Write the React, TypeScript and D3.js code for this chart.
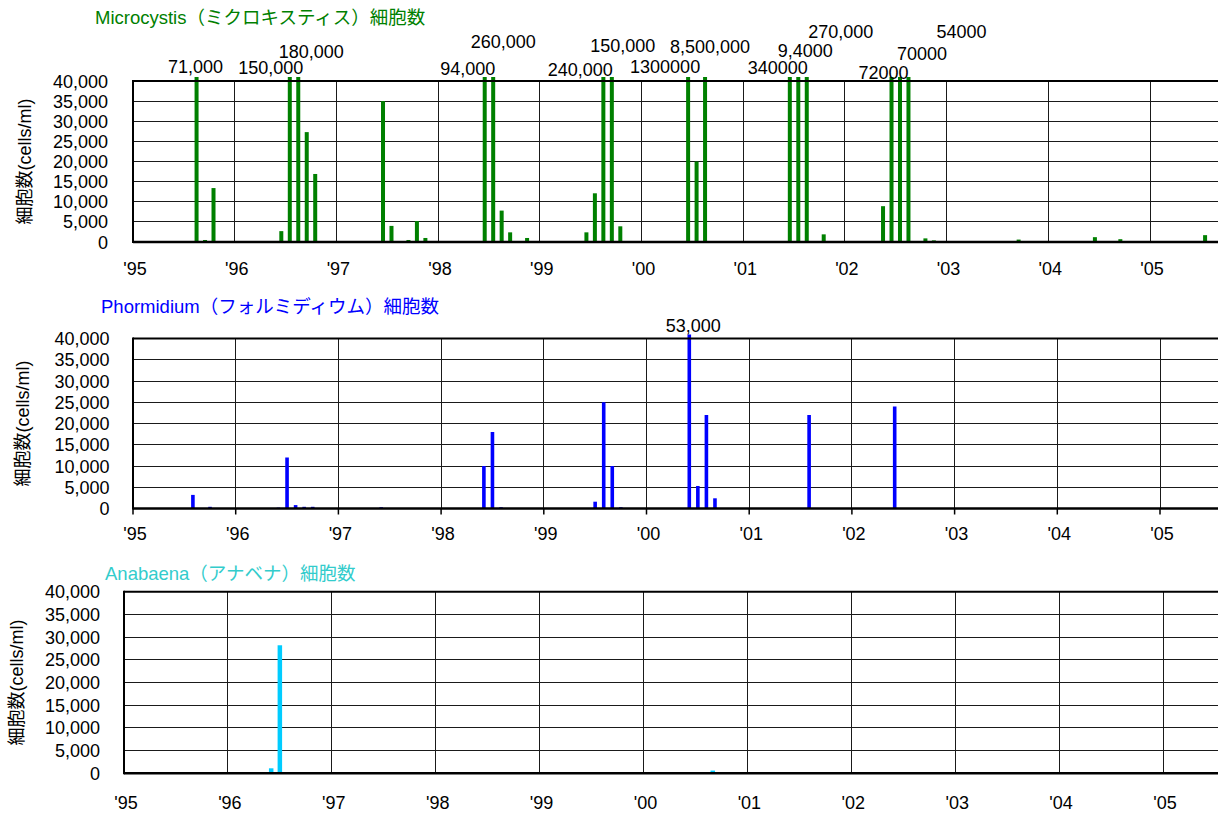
import React from 'react';
import * as d3 from 'd3';

// ---------- data ----------
const yearLabels = ["'95", "'96", "'97", "'98", "'99", "'00", "'01", "'02", "'03", "'04", "'05"];
const yTickValues = [0, 5000, 10000, 15000, 20000, 25000, 30000, 35000, 40000];
const yMax = 40000;

const microMonths = [
  '1995-06', '1995-07', '1995-08', '1995-09', '1995-10', '1995-11',
  '1996-06', '1996-07', '1996-08', '1996-09', '1996-10', '1996-11',
  '1997-06', '1997-07', '1997-09', '1997-10', '1997-11',
  '1998-06', '1998-07', '1998-08', '1998-09', '1998-11',
  '1999-06', '1999-07', '1999-08', '1999-09', '1999-10',
  '2000-06', '2000-07', '2000-08',
  '2001-06', '2001-07', '2001-08', '2001-10',
  '2002-05', '2002-06', '2002-07', '2002-08', '2002-10', '2002-11',
  '2003-07', '2003-09', '2003-10',
  '2004-06', '2004-08', '2004-09',
  '2005-07',
];
const microValues = [
  100, 100, 71000, 500, 13400, 100,
  2700, 150000, 180000, 27300, 16900, 200,
  35000, 4000, 500, 5200, 1000,
  94000, 260000, 7800, 2400, 1000,
  2400, 12100, 240000, 150000, 3900,
  1300000, 20000, 8500000,
  340000, 94000, 270000, 1900,
  8900, 72000, 70000, 54000, 900, 400,
  100, 600, 100,
  1200, 100, 700,
  1700,
];
// labels for off-scale bars: month, text, horizontal shift, height above plot top
const microLabelMonths = ['1995-08', '1996-07', '1996-08', '1998-06', '1998-07', '1999-08', '1999-09', '2000-06', '2000-08', '2001-06', '2001-07', '2001-08', '2002-06', '2002-07', '2002-08'];
const microLabelTexts = ['71,000', '150,000', '180,000', '94,000', '260,000', '240,000', '150,000', '1300000', '8,500,000', '340000', '9,4000', '270,000', '72000', '70000', '54000'];
const microLabelDx = [-1, -19, 13, -17, 10, -23, 11, -23, 5, -12, 7, 34, -8, 22, 53];
const microLabelRise = [8, 7, 23, 6, 33, 5, 29, 8, 28, 7, 24, 43, 2, 21, 43];

const phormMonths = [
  '1995-05', '1995-08', '1995-10',
  '1996-06', '1996-07', '1996-08', '1996-09', '1996-10', '1996-11',
  '1997-06', '1997-10',
  '1998-06', '1998-07', '1998-08',
  '1999-07', '1999-08', '1999-09', '1999-10', '1999-11',
  '2000-06', '2000-07', '2000-08', '2000-09',
  '2001-06', '2001-08',
  '2002-06', '2002-08',
  '2004-06',
];
const phormValues = [
  100, 3200, 400,
  200, 12000, 800, 400, 400, 100,
  300, 100,
  10000, 18000, 300,
  1600, 25000, 10000, 300, 100,
  53000, 5300, 22000, 2400,
  100, 22000,
  24000, 100,
  100,
];
const phormLabelMonths = ['2000-06'];
const phormLabelTexts = ['53,000'];
const phormLabelDx = [4];
const phormLabelRise = [7];

const anaMonths = ['1995-11', '1996-06', '1996-07', '1996-09', '1999-10', '2000-09', '2004-10', '2005-07'];
const anaValues = [100, 1100, 28200, 100, 100, 600, 100, 100];

// ---------- helpers ----------
const monthIndex = (s: string) => {
  const [y, m] = s.split('-').map(Number);
  return (y - 1995) * 12 + (m - 1);
};

type Cfg = {
  title: string;
  titleColor: string;
  barColor: string;
  months: string[];
  values: number[];
  labelMonths: string[];
  labelTexts: string[];
  labelDx: number[];
  labelRise: number[];
  left: number;
  yearW: number;
  top: number;
  bottom: number;
  offset: number; // 0.5 = bars between ticks, 0 = on ticks
  barW: number;
  titleX: number;
  titleY: number;
  yTitleX: number;
  tickRight: number;
  xLabelY: number;
  outerTicks: boolean;
};

const FONT = '"Liberation Sans", Arial, "Noto Sans CJK JP", sans-serif';
const W = 1218;

function Panel({ c }: { c: Cfg }) {
  const x = d3.scaleLinear().domain([0, 12]).range([c.left, c.left + c.yearW]);
  const y = d3.scaleLinear().domain([0, yMax]).range([c.bottom, c.top]);
  const overTop = c.top - 4;
  const barTop = (v: number) => Math.max(overTop, y(v));
  const gridCol = '#1a1a1a';
  return (
    <g>
      <text x={c.titleX} y={c.titleY} fill={c.titleColor} fontSize={18.5} fontFamily={FONT} dominantBaseline="middle">
        {c.title}
      </text>
      <text
        transform={`translate(${c.yTitleX},${(c.top + c.bottom) / 2}) rotate(-90)`}
        textAnchor="middle"
        dominantBaseline="middle"
        fontSize={18}
        fontFamily={FONT}
        fill="#000"
      >
        細胞数(cells/ml)
      </text>
      {/* horizontal grid */}
      {yTickValues.filter((v) => v > 0 && v < yMax).map((v) => (
        <line key={'h' + v} x1={c.left} x2={W} y1={y(v)} y2={y(v)} stroke={gridCol} strokeWidth={1} shapeRendering="crispEdges" />
      ))}
      {/* vertical year grid */}
      {yearLabels.map((_, i) => i > 0 && (
        <line key={'v' + i} x1={x(i * 12)} x2={x(i * 12)} y1={c.top} y2={c.bottom} stroke={gridCol} strokeWidth={1} shapeRendering="crispEdges" />
      ))}
      {/* y tick labels */}
      {yTickValues.map((v) => (
        <text key={'yt' + v} x={c.tickRight} y={y(v) + 6.5} textAnchor="end" fontSize={18} fontFamily={FONT} fill="#000">
          {d3.format(',')(v)}
        </text>
      ))}
      {/* x tick labels */}
      {yearLabels.map((t, i) => (
        <text key={'xt' + i} x={x(i * 12) + 2} y={c.xLabelY + 6.5} textAnchor="middle" fontSize={18} fontFamily={FONT} fill="#000">
          {t}
        </text>
      ))}
      {c.outerTicks && yearLabels.map((_, i) => (
        <line key={'ot' + i} x1={x(i * 12)} x2={x(i * 12)} y1={c.bottom} y2={c.bottom + 6} stroke="#000" strokeWidth={1.5} />
      ))}
      {/* bars */}
      {c.values.map((v, i) => {
        const m = monthIndex(c.months[i]);
        const cx = x(m + c.offset);
        const t = barTop(v);
        return <rect key={'b' + i} x={cx - c.barW / 2} y={t} width={c.barW} height={c.bottom - t} fill={c.barColor} />;
      })}
      {/* plot frame */}
      <line x1={c.left} x2={W} y1={c.top} y2={c.top} stroke="#000" strokeWidth={2} />
      <line x1={c.left} x2={c.left} y1={c.top - 1} y2={c.bottom + 1} stroke="#000" strokeWidth={2} />
      <line x1={c.left} x2={W} y1={c.bottom} y2={c.bottom} stroke="#000" strokeWidth={2.5} />
      {/* value labels of off-scale bars */}
      {c.labelTexts.map((t, i) => {
        const m = monthIndex(c.labelMonths[i]);
        return (
          <text key={'l' + i} x={x(m + c.offset) + c.labelDx[i]} y={c.top - c.labelRise[i]} textAnchor="middle" fontSize={18} fontFamily={FONT} fill="#000">
            {t}
          </text>
        );
      })}
    </g>
  );
}

const panels: Cfg[] = [
  {
    title: 'Microcystis（ミクロキスティス）細胞数',
    titleColor: '#008000',
    barColor: '#008000',
    months: microMonths,
    values: microValues,
    labelMonths: microLabelMonths,
    labelTexts: microLabelTexts,
    labelDx: microLabelDx,
    labelRise: microLabelRise,
    left: 133,
    yearW: 101.7,
    top: 81,
    bottom: 242,
    offset: 0.5,
    barW: 4,
    titleX: 95,
    titleY: 19,
    yTitleX: 26,
    tickRight: 108,
    xLabelY: 268,
    outerTicks: false,
  },
  {
    title: 'Phormidium（フォルミディウム）細胞数',
    titleColor: '#0000FF',
    barColor: '#0000FF',
    months: phormMonths,
    values: phormValues,
    labelMonths: phormLabelMonths,
    labelTexts: phormLabelTexts,
    labelDx: phormLabelDx,
    labelRise: phormLabelRise,
    left: 133,
    yearW: 102.7,
    top: 338.5,
    bottom: 508.5,
    offset: 0,
    barW: 3.6,
    titleX: 101,
    titleY: 308,
    yTitleX: 24,
    tickRight: 109.5,
    xLabelY: 533,
    outerTicks: true,
  },
  {
    title: 'Anabaena（アナベナ）細胞数',
    titleColor: '#33CCCC',
    barColor: '#00CCFF',
    months: anaMonths,
    values: anaValues,
    labelMonths: [],
    labelTexts: [],
    labelDx: [],
    labelRise: [],
    left: 124,
    yearW: 103.9,
    top: 591.7,
    bottom: 773.3,
    offset: 0,
    barW: 4.5,
    titleX: 105,
    titleY: 575,
    yTitleX: 18,
    tickRight: 100,
    xLabelY: 802,
    outerTicks: false,
  },
];

export default function App() {
  return (
    <svg
      width={1218}
      height={814}
      style={{ position: 'absolute', left: 0, top: 0, background: '#fff' }}
      xmlns="http://www.w3.org/2000/svg"
    >
      <rect x={0} y={0} width={1218} height={814} fill="#fff" />
      {panels.map((c, i) => (
        <Panel key={i} c={c} />
      ))}
    </svg>
  );
}
